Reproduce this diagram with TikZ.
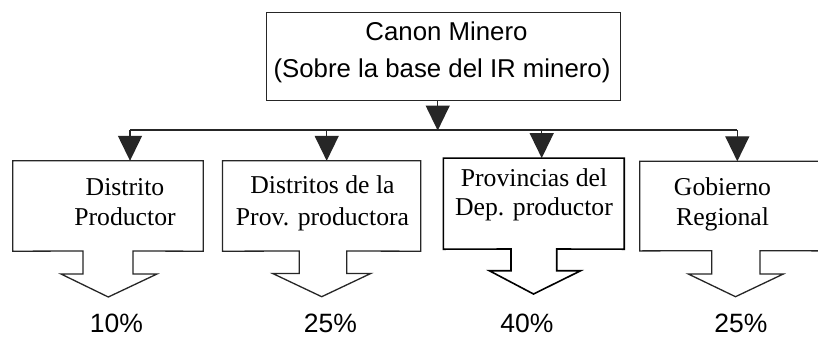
\documentclass[tikz,border=0pt]{standalone}
\usepackage{fontspec}
\setmainfont{Liberation Serif}
\setsansfont{Liberation Sans}
\usetikzlibrary{arrows.meta}
\begin{document}
\begin{tikzpicture}[x=1pt,y=-1pt,
  line/.style={draw=black!85, line width=1.3pt, line join=miter},
  tipline/.style={draw=black!85, line width=1.3pt, -{Triangle[length=25pt,width=24pt]}},
  sanstxt/.style={font=\sffamily\fontsize{25.8}{30}\selectfont, anchor=base, inner sep=0},
  seriftxt/.style={font=\rmfamily\fontsize{25.7}{30}\selectfont, anchor=base, inner sep=0},
  pct/.style={font=\sffamily\fontsize{26.5}{30}\selectfont, anchor=base, inner sep=0},
  boxarea/.style={rectangle, inner sep=0, draw=none}]
\useasboundingbox (0,0) rectangle (818,338);
\clip (0,0) rectangle (818,338);
\fill[white] (0,0) rectangle (818,338);

% top box
\node[rectangle, draw=black!85, line width=1.3pt, minimum width=354pt, minimum height=88pt, inner sep=0] (top) at (443.7,56.7) {};
\node[sanstxt] (t1) at (446.5,40.7) {Canon Minero};
\node[sanstxt] (t2) at (442,77.3) {(Sobre la base del IR minero)};

% bus
\coordinate (a1) at (130,130);
\coordinate (a2) at (326.7,130);
\coordinate (a3) at (541.7,130);
\coordinate (a4) at (737.3,130);
\coordinate (tf) at (437.7,130.5);
\draw[line] (a1) -- (a4);
\draw[tipline] (top.south -| tf) -- (tf);

% box areas (outlines drawn as callouts)
\node[boxarea, minimum width=190pt, minimum height=90pt] (b1) at (108,206) {};
\node[boxarea, minimum width=197.8pt, minimum height=90pt] (b2) at (321.6,206) {};
\node[boxarea, minimum width=180.5pt, minimum height=90.7pt] (b3) at (533.75,203.65) {};
\node[boxarea, minimum width=192pt, minimum height=89.2pt] (b4) at (736,206.1) {};

\draw[tipline] (a1) -- (a1 |- b1.north);
\draw[tipline] (a2) -- (a2 |- b2.north);
\draw[tipline] (a3) -- (a3 |- b3.north);
\draw[tipline] (a4) -- (a4 |- b4.north);

% callout outlines
\draw[line] (b1.north west) -- (b1.north east) -- (b1.south east) -- (133,251) -- (133,274) -- (157,274) -- (108.3,297) -- (61,274) -- (83,274) -- (83,251) -- (b1.south west) -- cycle;
\draw[line] (b2.north west) -- (b2.north east) -- (b2.south east) -- (346.7,251) -- (346.7,273.5) -- (370.7,273.5) -- (321.7,296.7) -- (272.7,273.5) -- (299.3,273.5) -- (299.3,251) -- (b2.south west) -- cycle;
\draw[line, draw=black, line width=1.6pt] (b3.north west) -- (b3.north east) -- (b3.south east) -- (556.7,249) -- (556.7,270.7) -- (580.7,270.7) -- (533.5,294) -- (489.3,270.7) -- (511,270.7) -- (511,249) -- (b3.south west) -- cycle;
\draw[line] (b4.north west) -- (b4.north east) -- (b4.south east) -- (760,250.7) -- (760,274) -- (783.3,274) -- (735.5,296.7) -- (688.3,274) -- (711.7,274) -- (711.7,250.7) -- (b4.south west) -- cycle;

% box texts
\node[seriftxt] (l1a) at (125,195.7) {Distrito};
\node[seriftxt] (l1b) at (125,225) {Productor};
\node[seriftxt] (l2a) at (322.5,193.8) {Distritos de la};
\node[seriftxt] (l2b) at (322.5,225) {Prov. productora};
\node[seriftxt] (l3a) at (534,186.7) {Provincias del};
\node[seriftxt] (l3b) at (534,215) {Dep. productor};
\node[seriftxt] (l4a) at (722.5,195) {Gobierno};
\node[seriftxt] (l4b) at (722.5,225) {Regional};

% percentages
\node[pct] (p1) at (116.5,332) {10\%};
\node[pct] (p2) at (330.5,332) {25\%};
\node[pct] (p3) at (527,332) {40\%};
\node[pct] (p4) at (741,332) {25\%};
\end{tikzpicture}
\end{document}
